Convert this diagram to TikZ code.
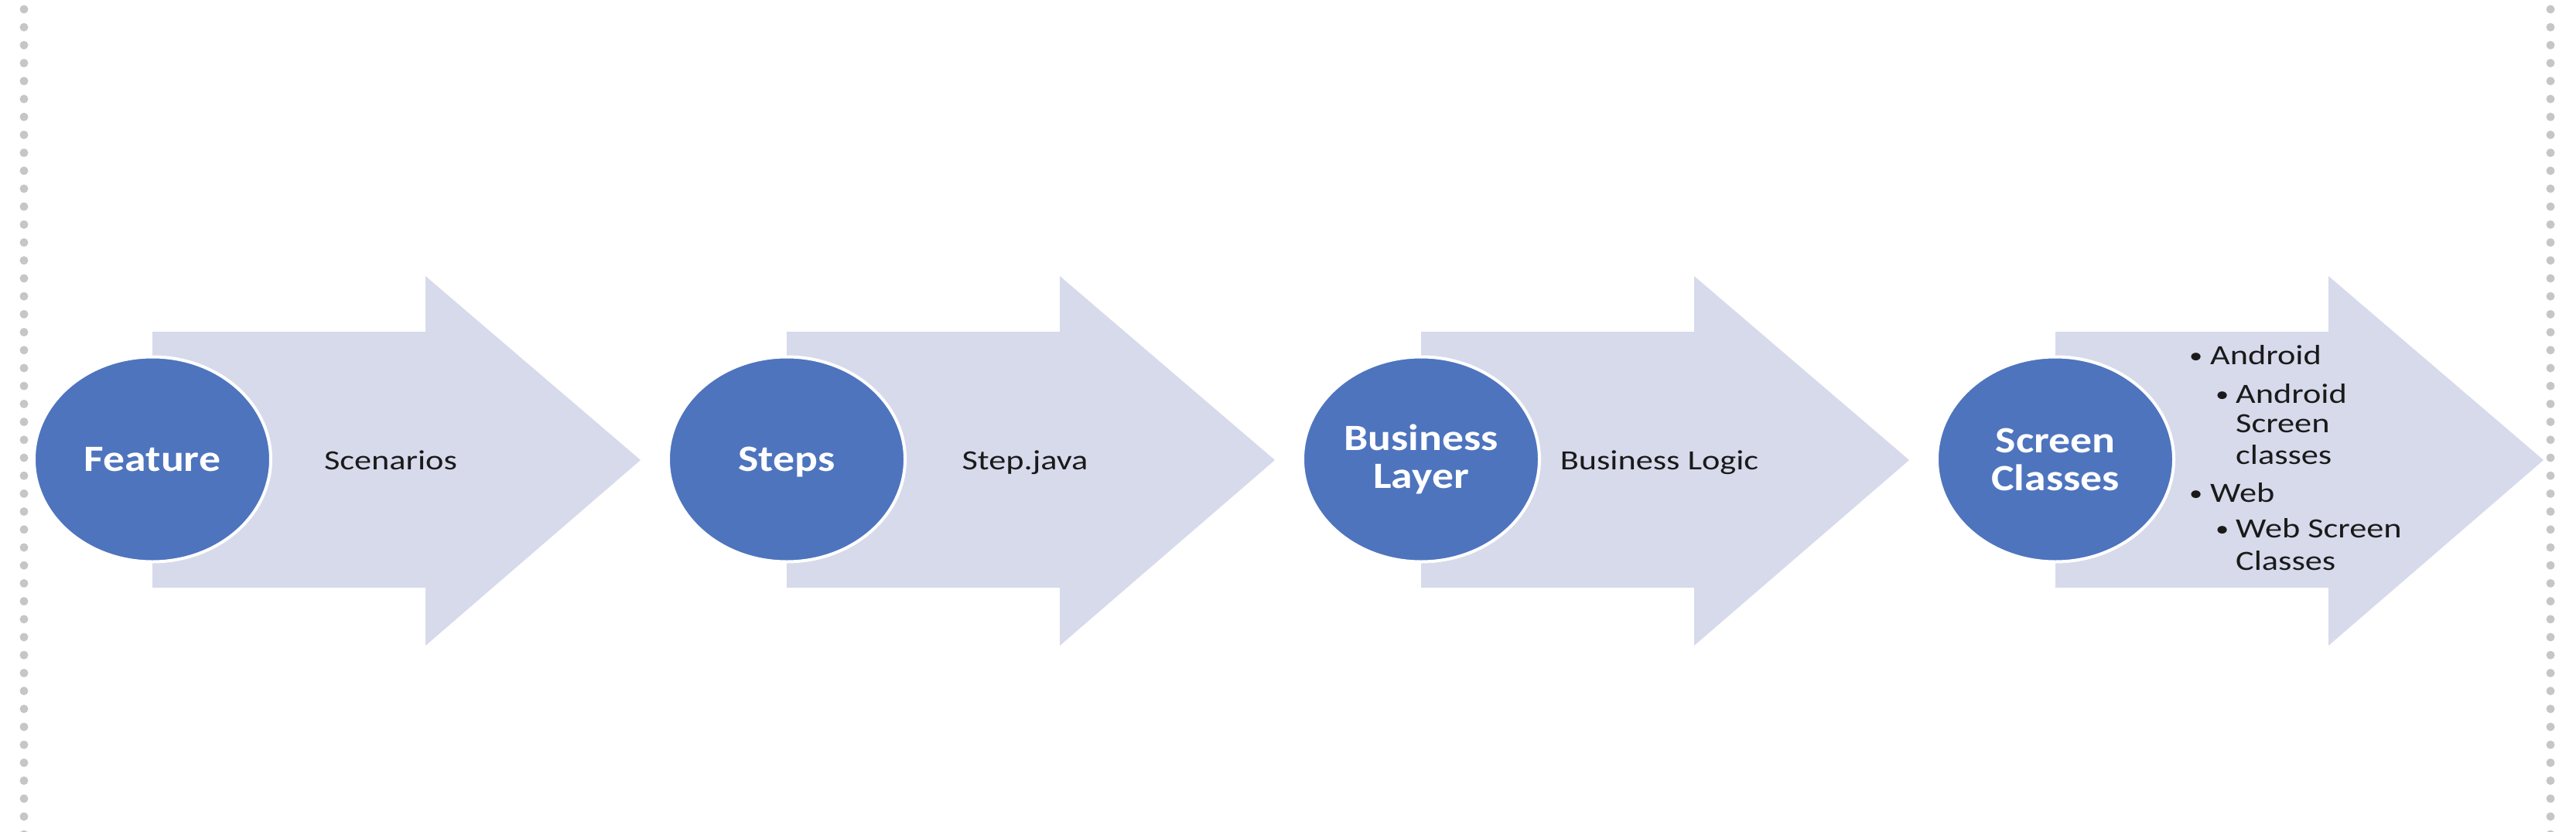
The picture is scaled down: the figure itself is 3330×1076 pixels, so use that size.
\documentclass[tikz,border=0pt]{standalone}
\usepackage{fontspec}
\setmainfont{Carlito}
\newfontfamily\calfont[FakeStretch=1.16]{Carlito}
\newfontfamily\bodyfont[FakeStretch=1.23]{Carlito}
\usetikzlibrary{shapes.geometric}
\definecolor{arrowfill}{HTML}{D6DAEB}
\definecolor{circfill}{HTML}{4E74BE}
\definecolor{dotgray}{HTML}{C6C6C6}
\definecolor{txt}{HTML}{1A1A1A}
\begin{document}
\begin{tikzpicture}[x=1pt,y=-1pt,
  circ/.style={ellipse, fill=circfill, draw=white, line width=4pt,
    minimum width=306pt, minimum height=265pt, inner sep=0pt, text=white,
    font=\calfont\bfseries\fontsize{48}{49}\selectfont, align=center},
  lbl/.style={font=\bodyfont\fontsize{36}{40}\selectfont, text=txt, anchor=base, inner sep=0pt},
  blt/.style={lbl, anchor=base west},
  bdot/.style={blt, font=\bodyfont\fontsize{28}{30}\selectfont},
  dotline/.style={dotgray, line width=11pt, line cap=round, dash pattern=on 0pt off 23.2pt}
]
\useasboundingbox (0,0) rectangle (3330,1076);
% dotted side rules
\draw[dotline] (31,12) -- (31,1090);
\draw[dotline] (3297,12) -- (3297,1090);
% block arrows
\foreach \x in {197,1017,1837,2657}{
  \fill[arrowfill] (\x,429) -- ({\x+353},429) -- ({\x+353},357) -- ({\x+631},595)
    -- ({\x+353},835) -- ({\x+353},760) -- (\x,760) -- cycle;
}
% circles
\node[circ] (c1) at (197,594) {Feature};
\node[circ, text depth=0pt] (c2) at (1017,594) {Steps};
\node[circ] (c3) at (1837,594) {Business\\Layer};
\node[circ] (c4) at (2657,594) {Screen\\Classes};
% arrow texts
\node[lbl] (t1) at (505,607) {Scenarios};
\node[lbl] (t2) at (1325,607) {Step.java};
\node[lbl] (t3) at (2145,607) {Business Logic};
% bullet list
\node[bdot] (b1) at (2830,469) {•};
\node[blt] (l1) at (2857,471) {Android};
\node[bdot] (b2) at (2864,519) {•};
\node[blt] (l2) at (2890,521) {Android};
\node[blt] (l3) at (2890,559) {Screen};
\node[blt] (l4) at (2890,600) {classes};
\node[bdot] (b3) at (2830,647) {•};
\node[blt] (l5) at (2857,649) {Web};
\node[bdot] (b4) at (2864,693) {•};
\node[blt] (l6) at (2890,695) {Web Screen};
\node[blt] (l7) at (2890,737) {Classes};
\end{tikzpicture}
\end{document}
